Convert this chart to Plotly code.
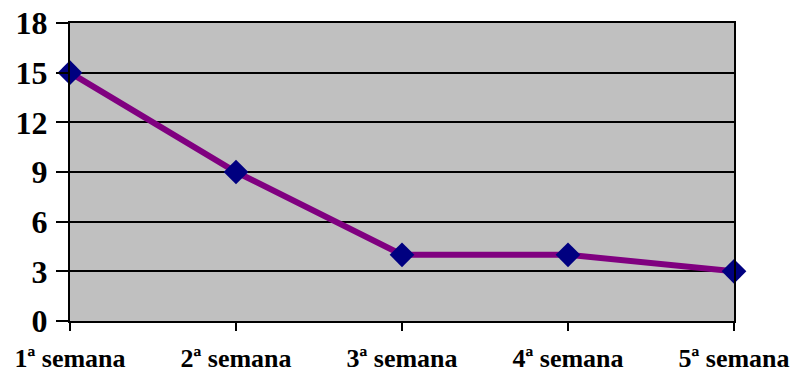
import plotly.graph_objects as go

# Weekly values
weeks = ["1ª semana", "2ª semana", "3ª semana", "4ª semana", "5ª semana"]
values = [15, 9, 4, 4, 3]
y_ticks = [0, 3, 6, 9, 12, 15, 18]

x_pos = list(range(len(weeks)))

fig = go.Figure()
fig.add_trace(go.Scatter(
    x=x_pos, y=values, mode="lines+markers",
    line=dict(color="#800080", width=6),
    marker=dict(symbol="diamond", size=19, color="#000080",
                line=dict(width=0)),
    cliponaxis=False, showlegend=False,
))

font_family = "Liberation Serif"

fig.update_layout(
    width=793, height=374,
    margin=dict(l=70, r=59, t=23, b=53),
    paper_bgcolor="white",
    plot_bgcolor="#C0C0C0",
    font=dict(family=font_family, color="black"),
    xaxis=dict(
        range=[0, len(weeks) - 1],
        tickmode="array", tickvals=x_pos, ticktext=weeks,
        showgrid=False, zeroline=False, automargin=False,
        showline=True, linecolor="black", linewidth=2, mirror=True,
        ticks="outside", ticklen=8, tickwidth=2, tickcolor="black",
        tickfont=dict(size=26, family=font_family, weight="bold"),
        ticklabelstandoff=5,
    ),
    yaxis=dict(
        range=[0, 18], automargin=False,
        tickmode="array", tickvals=y_ticks, ticktext=[str(t) for t in y_ticks],
        showgrid=True, gridcolor="black", gridwidth=2,
        zeroline=False,
        showline=True, linecolor="black", linewidth=2, mirror=True,
        ticks="outside", ticklen=12, tickwidth=2, tickcolor="black",
        tickfont=dict(size=32, family=font_family, weight="bold"),
        ticklabelstandoff=2,
    ),
)

fig.write_html("out.html")
